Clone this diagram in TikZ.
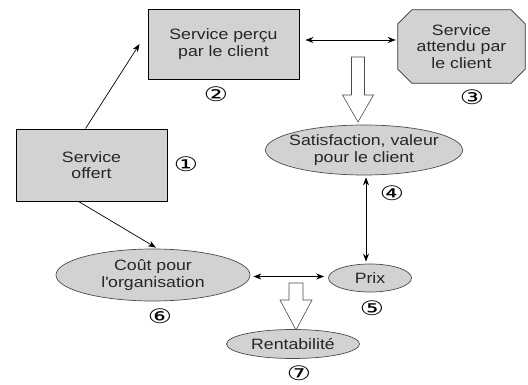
\documentclass[tikz,border=0pt]{standalone}
\usepackage{fontspec}
\setmainfont{Liberation Sans}[FakeStretch=1.18]
\newfontfamily\circfont{DejaVu Sans}[FakeStretch=1.35]
\usetikzlibrary{arrows.meta,backgrounds,shapes.geometric}
\begin{document}
\begin{tikzpicture}[x=1pt,y=-1pt,
  txt/.style={font=\fontsize{15}{16.5}\selectfont, align=center, text=black!85},
  boxnode/.style={txt, draw=black, line width=0.9pt, fill=gray!35, inner sep=0pt},
  ell/.style={txt, ellipse, draw=black!70, line width=0.7pt, fill=gray!35, inner xsep=-30pt, inner ysep=-10pt},
  num/.style={font=\circfont\fontsize{20}{20}\selectfont, inner sep=0pt},
  arr/.style={-{Stealth[length=8pt,width=6pt]}, line width=0.7pt},
  dbl/.style={{Stealth[length=8pt,width=6pt]}-{Stealth[length=8pt,width=6pt]}, line width=0.8pt},
  hollow/.style={draw=black!70, fill=white, line width=0.6pt, line join=miter}
]
\useasboundingbox (0,0) rectangle (528,385);

% nodes
\node[boxnode, minimum width=151pt, minimum height=72pt] (offert) at (91.5,165) {Service\\offert};
\node[boxnode, minimum width=151pt, minimum height=70pt] (percu) at (223.5,44) {Service perçu\\par le client};
\node[txt, minimum width=127pt, minimum height=73pt, inner sep=0pt] (attendu) at (461.5,46.5) {Service\\attendu par\\le client};
\begin{scope}[on background layer]
\draw[fill=gray!35, draw=black!80, line width=0.8pt]
  ([xshift=14pt]attendu.north west) -- ([xshift=-14pt]attendu.north east)
  -- ([yshift=-14pt]attendu.north east) -- ([yshift=14pt]attendu.south east)
  -- ([xshift=-14pt]attendu.south east) -- ([xshift=14pt]attendu.south west)
  -- ([yshift=14pt]attendu.south west) -- ([yshift=-14pt]attendu.north west) -- cycle;
\end{scope}
\node[ell, minimum width=197pt, minimum height=50pt] (satisf) at (364,150) {Satisfaction, valeur\\pour le client};
\node[ell, minimum width=83pt, minimum height=28pt] (prix) at (370,278) {Prix};
\node[ell, minimum width=194pt, minimum height=52pt] (cout) at (153,275) {Coût pour\\l\textquotesingle organisation};
\node[ell, minimum width=133pt, minimum height=29pt] (rent) at (293,344) {Rentabilité};

% numbers
\node[num] (n1) at (186,164) {①};
\node[num] (n2) at (216,94) {②};
\node[num] (n3) at (472,97) {③};
\node[num] (n4) at (392,193) {④};
\node[num] (n5) at (372,308) {⑤};
\node[num] (n6) at (160,316) {⑥};
\node[num] (n7) at (299,373) {⑦};

% connectors
\draw[arr] ([xshift=-6pt]offert.north) -- ([xshift=-8pt]percu.west);
\draw[arr] ([xshift=-13pt]offert.south) -- ([xshift=3pt,yshift=1pt]cout.north);
\draw[dbl] ([xshift=6pt,yshift=4pt]percu.east) -- ([xshift=-2pt,yshift=4pt]percu.east -| attendu.west);
\draw[dbl] ([xshift=2pt,yshift=-2pt]satisf.south) -- ([xshift=2pt,yshift=2pt]satisf.south |- prix.north);
\draw[dbl] ([xshift=3pt,yshift=-1.5pt]cout.east) -- ([xshift=-4pt,yshift=-1.5pt]cout.east -| prix.west);

% hollow arrows
\coordinate (h1) at (358,57);
\draw[hollow] ([xshift=-6.5pt]h1) -- ++(0,38) -- ++(-9,0) -- ++(15.5,27) -- ++(15.5,-27) -- ++(-9,0) -- ++(0,-38) -- cycle;
\coordinate (h2) at (296,283);
\draw[hollow] ([xshift=-7pt]h2) -- ++(0,17) -- ++(-9,0) -- ++(16,30) -- ++(16,-30) -- ++(-9,0) -- ++(0,-17) -- cycle;
\end{tikzpicture}
\end{document}
